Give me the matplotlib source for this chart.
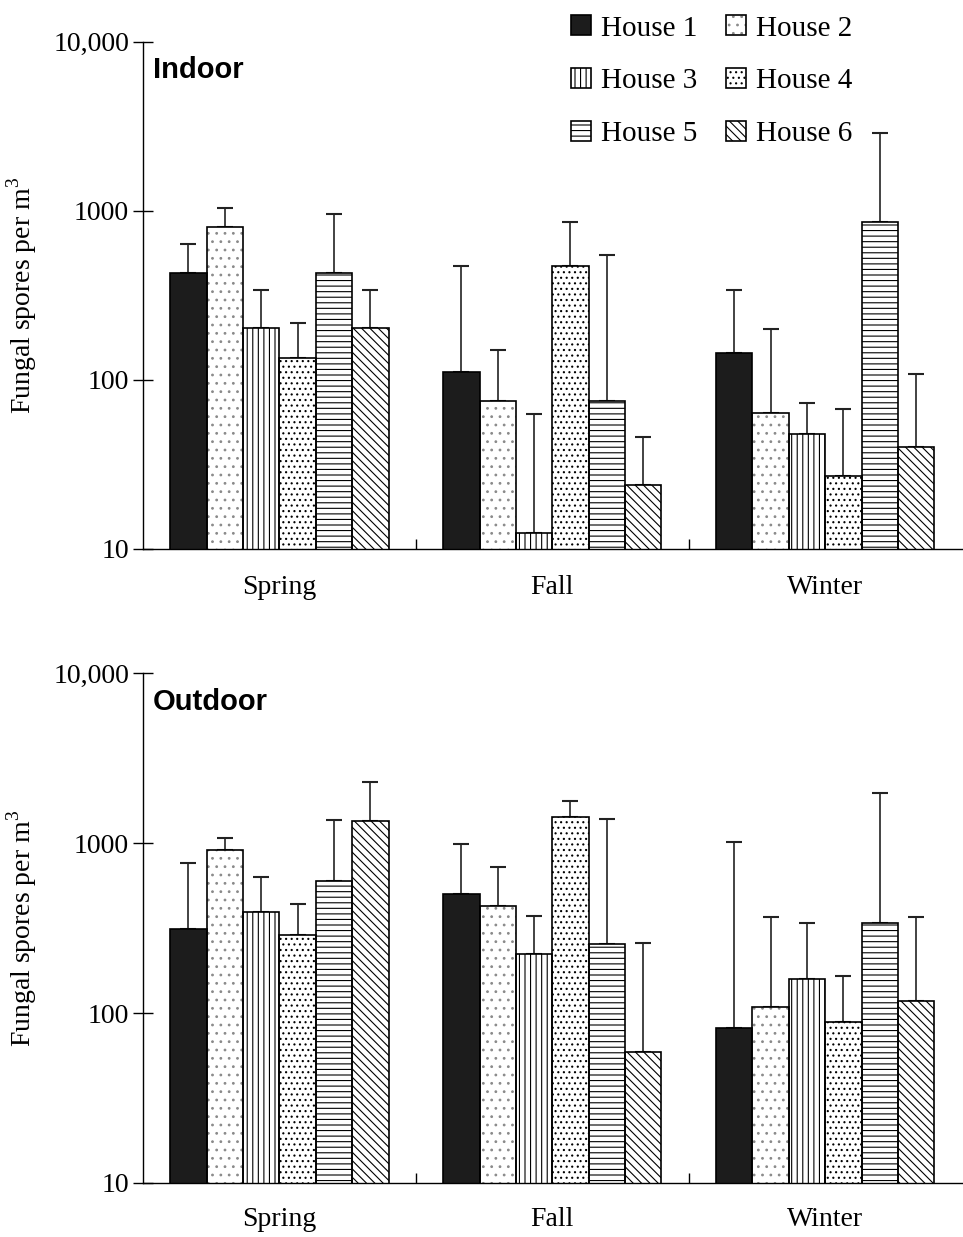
import numpy as np
import matplotlib
matplotlib.use('Agg')
import matplotlib.pyplot as plt
from matplotlib.ticker import FixedLocator, NullLocator
from matplotlib.legend_handler import HandlerTuple

plt.rcParams['font.family'] = ['Liberation Serif', 'DejaVu Serif']
plt.rcParams['mathtext.fontset'] = 'custom'
plt.rcParams['mathtext.rm'] = 'Liberation Serif'
plt.rcParams['hatch.linewidth'] = 0.8

seasons = ['Spring', 'Fall', 'Winter']
houses = ['House 1', 'House 2', 'House 3', 'House 4', 'House 5', 'House 6']

# mean spores per m3, one row per house: spring, fall, winter
indoor_mean = [
    [431, 111, 145],
    [805, 75, 64],
    [204, 12.4, 48],
    [134, 474, 27],
    [431, 75, 861],
    [204, 24, 40],
]
# top of the error bar
indoor_upper = [
    [638, 474, 342],
    [1041, 151, 199],
    [342, 63, 73],
    [218, 861, 67],
    [960, 550, 2884],
    [342, 46, 108],
]
outdoor_mean = [
    [312, 501, 82],
    [910, 426, 108],
    [393, 222, 158],
    [288, 1422, 88],
    [598, 255, 338],
    [1349, 59, 118],
]
outdoor_upper = [
    [762, 986, 1014],
    [1070, 722, 367],
    [631, 372, 338],
    [438, 1766, 165],
    [1366, 1384, 1968],
    [2290, 258, 367],
]

fills = ['#1c1c1c', 'white', 'white', 'white', 'white', 'white']
hatches = [None, '..', '|||', '...', '---', '\\\\\\\\']
hatch_colors = ['#1c1c1c', '#8a8a8a', 'black', 'black', 'black', 'black']

FS = 20

fig = plt.figure(figsize=(9.63, 12.37), dpi=100)
ax_in = fig.add_axes([0.1485, 0.5562, 0.85, 0.41])
ax_out = fig.add_axes([0.1485, 0.0437, 0.85, 0.412])

x = np.arange(len(seasons))
w = 0.8 / len(houses)


def draw(ax, mean, upper, title, label_pad):
    handles = []
    for i in range(len(houses)):
        m = np.array(mean[i], dtype=float)
        up = np.array(upper[i], dtype=float) - m
        pos = x + (i - 2.5) * w
        # hatch layer, then black outline on top
        b1 = ax.bar(pos, m, w, color=fills[i], edgecolor=hatch_colors[i], linewidth=0,
                    hatch=hatches[i], zorder=2)
        b2 = ax.bar(pos, m, w, facecolor='none', edgecolor='black', linewidth=1.2,
                    zorder=3)
        ax.errorbar(pos, m, yerr=[np.zeros_like(m), up], fmt='none', ecolor='#222222',
                    elinewidth=1.2, capsize=5.5, capthick=1.5, zorder=1)
        handles.append((b1, b2))
    ax.set_yscale('log')
    ax.set_ylim(10, 10000)
    ax.set_xlim(-0.5, 2.5)
    ax.set_yticks([10, 100, 1000, 10000])
    ax.set_yticklabels(['10', '100', '1000', '10,000'])
    ax.yaxis.set_minor_locator(NullLocator())
    ax.tick_params(axis='y', which='major', direction='inout', length=14, width=1,
                   labelsize=FS, pad=3)
    ax.set_xticks(x)
    ax.set_xticklabels(seasons)
    ax.xaxis.set_minor_locator(FixedLocator([0.5, 1.5]))
    ax.tick_params(axis='x', which='major', length=0, labelsize=FS, pad=label_pad)
    ax.tick_params(axis='x', which='minor', direction='in', length=7, width=1)
    for s in ['top', 'right']:
        ax.spines[s].set_visible(False)
    for s in ['left', 'bottom']:
        ax.spines[s].set_linewidth(1.0)
    ax.set_ylabel('Fungal spores per m$^\\mathregular{3}$', fontsize=FS, labelpad=10)
    ax.text(0.012, 0.972, title, transform=ax.transAxes, ha='left', va='top',
            fontsize=21, fontweight='bold', family=['Liberation Sans', 'DejaVu Sans'])
    return handles


h = draw(ax_in, indoor_mean, indoor_upper, 'Indoor', 19)
draw(ax_out, outdoor_mean, outdoor_upper, 'Outdoor', 17)

# legend rows read House 1/2, 3/4, 5/6
order = [0, 2, 4, 1, 3, 5]
fig.legend([h[k] for k in order], [houses[k] for k in order], ncol=2,
           handler_map={tuple: HandlerTuple(ndivide=1)},
           loc='upper left', bbox_to_anchor=(0.572, 1.004), frameon=False,
           fontsize=21, handlelength=0.66, handleheight=0.66, handletextpad=0.35,
           labelspacing=0.92, columnspacing=1.0, borderpad=0.2)

fig.savefig('out.png', dpi=100)
